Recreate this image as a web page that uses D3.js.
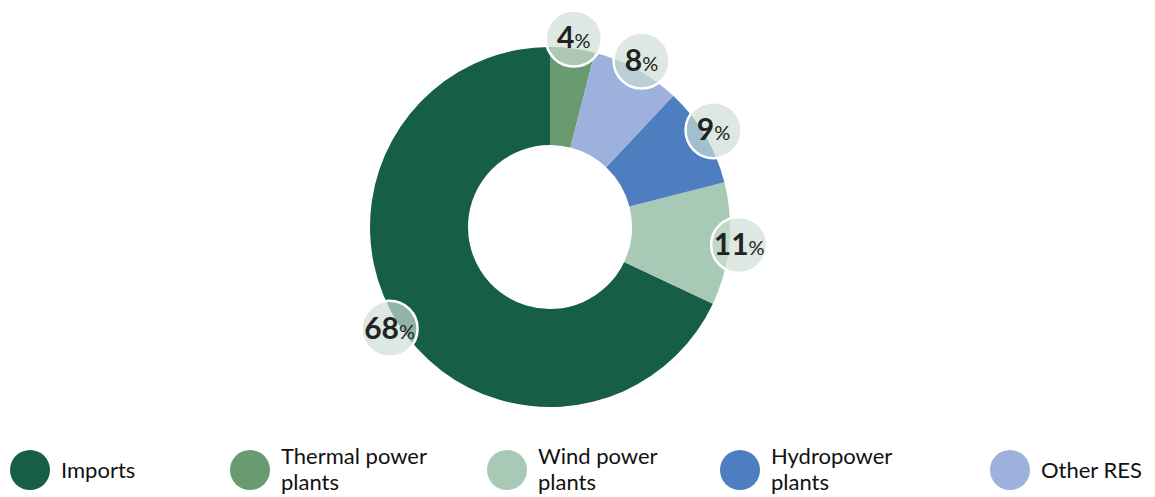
<!DOCTYPE html>
<html>
<head>
<meta charset="utf-8">
<script src="https://cdn.jsdelivr.net/npm/d3@7"></script>
<style>
  body { margin: 0; background: #fff; font-family: Lato, "Noto Sans", sans-serif; }
</style>
</head>
<body>
<div id="chart"></div>
<script>
const categories = ['Imports', 'Thermal power plants', 'Wind power plants', 'Hydropower plants', 'Other RES']
const shares = [68, 4, 11, 9, 8]
const colors = ['#165e47', '#6a9a6f', '#a7c9b5', '#4d7fc0', '#9db1dc']
const legendLines = [['Imports'], ['Thermal power', 'plants'], ['Wind power', 'plants'], ['Hydropower', 'plants'], ['Other RES']]

const width = 1155
const height = 497
const cx = 550
const cy = 227
const outer = 180
const inner = 82

const svg = d3.select('#chart')
  .append('svg')
  .attr('width', width)
  .attr('height', height)

const data = categories.map((c, i) => ({ name: c, value: shares[i], color: colors[i], i }))

// smallest slice first, clockwise from the top
const pie = d3.pie()
  .value(d => d.value)
  .sort((a, b) => a.value - b.value)

const arcs = pie(data)
const arc = d3.arc().innerRadius(inner).outerRadius(outer)
const labelArc = d3.arc().innerRadius(190).outerRadius(190)

const g = svg.append('g').attr('transform', `translate(${cx},${cy})`)

g.selectAll('path')
  .data(arcs)
  .enter()
  .append('path')
  .attr('d', arc)
  .attr('fill', d => d.data.color)

const labels = g.selectAll('g.lbl')
  .data(arcs)
  .enter()
  .append('g')
  .attr('class', 'lbl')
  .attr('transform', d => `translate(${labelArc.centroid(d)})`)

labels.append('circle')
  .attr('r', 28)
  .attr('fill', 'rgb(204,221,211)')
  .attr('fill-opacity', 0.68)
  .attr('stroke', '#fff')
  .attr('stroke-width', 2.5)

const txt = labels.append('text')
  .attr('text-anchor', 'middle')
  .attr('y', 10)
  .attr('fill', '#222')

txt.append('tspan')
  .attr('font-size', 30)
  .attr('font-weight', 700)
  .text(d => d.data.value)

txt.append('tspan')
  .attr('font-size', 20)
  .text('%')

// legend
const legendCols = [10, 230, 487, 720, 990]
const legend = svg.selectAll('g.leg')
  .data(data)
  .enter()
  .append('g')
  .attr('class', 'leg')
  .attr('transform', (d, i) => `translate(${legendCols[i]},470)`)

legend.append('circle')
  .attr('cx', 20)
  .attr('r', 20)
  .attr('fill', d => d.color)

legend.selectAll('text')
  .data((d, i) => legendLines[i].map((t, k, arr) => ({ t, k, n: arr.length })))
  .enter()
  .append('text')
  .attr('x', 51)
  .attr('y', d => d.n === 1 ? 8 : (d.k === 0 ? -6 : 20))
  .attr('font-size', 22)
  .attr('fill', '#111')
  .text(d => d.t)
</script>
</body>
</html>
